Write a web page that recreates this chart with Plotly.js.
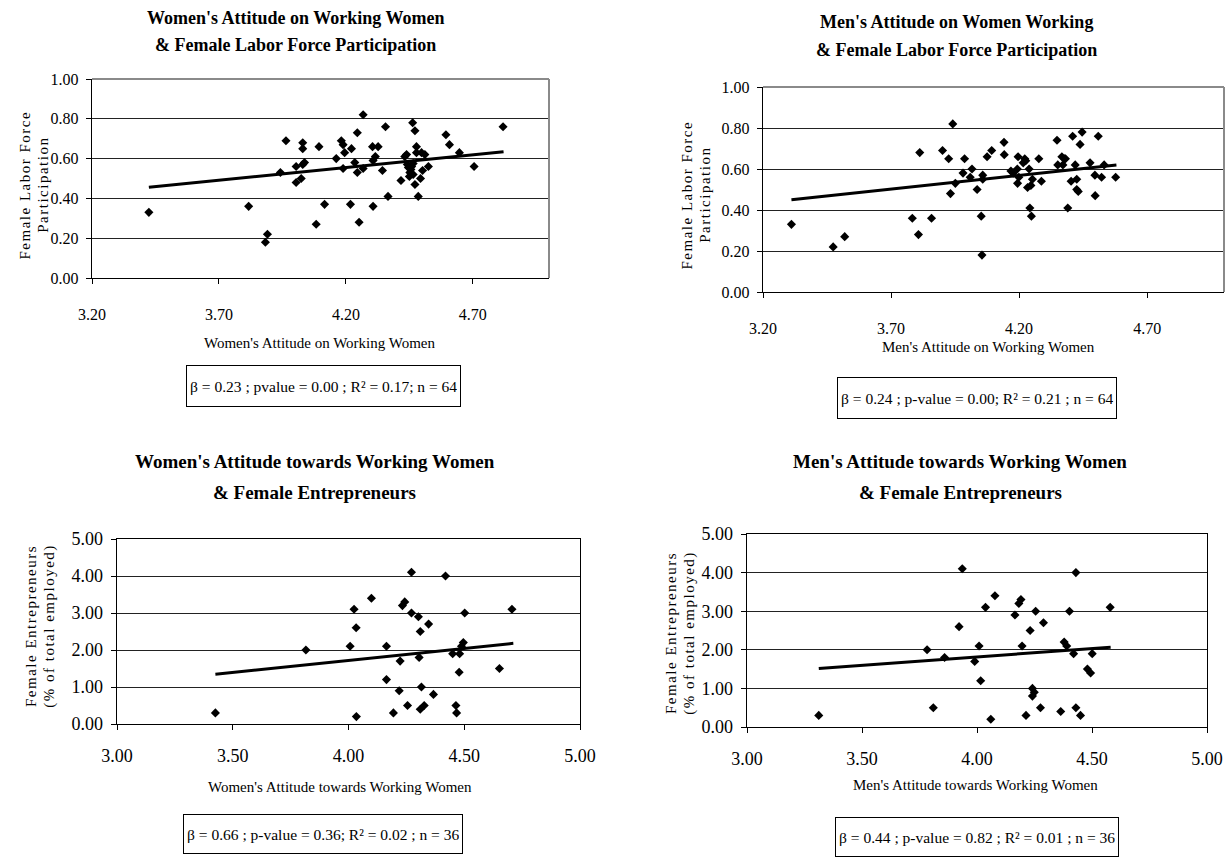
<!DOCTYPE html>
<html>
<head>
<meta charset="utf-8">
<script src="https://cdn.plot.ly/plotly-3.0.1.min.js"></script>
<style>
html,body{margin:0;padding:0;background:#fff;}
#chart{width:1225px;height:857px;}
.annotation[data-index="12"] text,.annotation[data-index="13"] text,
.annotation[data-index="14"] text,.annotation[data-index="15"] text,
.annotation[data-index="16"] text,.annotation[data-index="17"] text,
.annotation[data-index="18"] text,.annotation[data-index="19"] text{letter-spacing:1.5px;}
</style>
</head>
<body>
<div id="chart"></div>
<script>
// ---------- DATA ----------
// Chart 1: Women's attitude vs female labor force participation
const womenAttLFP = [3.424,3.817,3.883,3.891,3.942,3.964,4.004,4.004,4.024,4.030,4.030,4.030,4.037,4.083,4.094,4.116,4.162,4.182,4.189,4.189,4.195,4.218,4.222,4.235,4.245,4.245,4.252,4.268,4.268,4.305,4.307,4.307,4.316,4.327,4.344,4.356,4.366,4.417,4.439,4.442,4.446,4.452,4.459,4.463,4.465,4.472,4.472,4.478,4.478,4.485,4.494,4.498,4.502,4.511,4.525,4.594,4.608,4.647,4.705,4.819,4.450,4.465,4.456,4.432];
const lfpWomen = [0.33,0.36,0.18,0.22,0.53,0.69,0.56,0.48,0.50,0.68,0.65,0.57,0.58,0.27,0.66,0.37,0.60,0.69,0.67,0.55,0.63,0.37,0.65,0.58,0.73,0.53,0.28,0.82,0.55,0.66,0.59,0.36,0.61,0.66,0.54,0.76,0.41,0.49,0.62,0.57,0.555,0.53,0.56,0.78,0.52,0.74,0.47,0.66,0.63,0.41,0.50,0.63,0.54,0.62,0.56,0.72,0.67,0.63,0.56,0.76,0.51,0.575,0.545,0.61];
const trend1X = [3.424, 4.821];
const trend1Y = [0.456, 0.634];

// Chart 2: Men's attitude vs female labor force participation
const menAttLFP = [3.311,3.474,3.519,3.783,3.807,3.812,3.858,3.901,3.925,3.932,3.941,3.951,3.981,3.987,4.009,4.016,4.036,4.052,4.055,4.058,4.058,4.075,4.093,4.141,4.142,4.168,4.177,4.193,4.194,4.196,4.199,4.216,4.222,4.226,4.233,4.239,4.242,4.246,4.248,4.252,4.277,4.287,4.348,4.351,4.367,4.371,4.377,4.381,4.390,4.403,4.409,4.419,4.425,4.425,4.431,4.438,4.446,4.477,4.496,4.497,4.509,4.522,4.532,4.577];
const lfpMen = [0.33,0.22,0.27,0.36,0.28,0.68,0.36,0.69,0.65,0.48,0.82,0.53,0.58,0.65,0.56,0.60,0.50,0.37,0.18,0.57,0.55,0.66,0.69,0.73,0.67,0.59,0.58,0.60,0.53,0.66,0.56,0.63,0.65,0.64,0.51,0.60,0.41,0.52,0.37,0.55,0.65,0.54,0.74,0.62,0.66,0.62,0.65,0.65,0.41,0.54,0.76,0.62,0.55,0.50,0.49,0.72,0.78,0.63,0.57,0.47,0.76,0.56,0.62,0.56];
const trend2X = [3.311, 4.580];
const trend2Y = [0.450, 0.620];

// Chart 3: Women's attitude vs female entrepreneurs
const womenAttEnt = [3.425,3.816,4.007,4.024,4.033,4.034,4.099,4.164,4.164,4.194,4.219,4.223,4.233,4.243,4.255,4.272,4.272,4.302,4.305,4.310,4.310,4.315,4.327,4.346,4.367,4.419,4.450,4.464,4.467,4.478,4.480,4.488,4.496,4.502,4.652,4.706];
const entWomen = [0.3,2.0,2.1,3.1,2.6,0.2,3.4,2.1,1.2,0.3,0.9,1.7,3.2,3.3,0.5,4.1,3.0,2.9,1.8,2.5,0.4,1.0,0.5,2.7,0.8,4.0,1.9,0.5,0.3,1.4,1.9,2.1,2.2,3.0,1.5,3.1];
const trend3X = [3.425, 4.712];
const trend3Y = [1.347, 2.18];

// Chart 4: Men's attitude vs female entrepreneurs
const menAttEnt = [3.312,3.783,3.810,3.859,3.922,3.936,3.990,4.009,4.016,4.037,4.060,4.078,4.165,4.182,4.191,4.196,4.213,4.231,4.241,4.241,4.249,4.255,4.276,4.289,4.364,4.379,4.390,4.402,4.420,4.430,4.430,4.450,4.480,4.494,4.501,4.579];
const entMen = [0.3,2.0,0.5,1.8,2.6,4.1,1.7,2.1,1.2,3.1,0.2,3.4,2.9,3.2,3.3,2.1,0.3,2.5,1.0,0.8,0.9,3.0,0.5,2.7,0.4,2.2,2.1,3.0,1.9,4.0,0.5,0.3,1.5,1.4,1.9,3.1];
const trend4X = [3.312, 4.581];
const trend4Y = [1.517, 2.069];

// Texts
const titles = [
  ["Women's Attitude on Working Women", "& Female Labor Force Participation"],
  ["Men's Attitude on Women Working", "& Female Labor Force Participation"],
  ["Women's Attitude towards Working Women", "& Female Entrepreneurs"],
  ["Men's Attitude towards Working Women", "& Female Entrepreneurs"]
];
const xTitles = ["Women's Attitude on Working Women", "Men's Attitude on Working Women",
  "Women's Attitude towards Working Women", "Men's Attitude towards Working Women"];
const yTitles = [["Female Labor Force", "Participation"], ["Female Labor Force", "Participation"],
  ["Female Entrepreneurs", "(% of total employed)"], ["Female Entrepreneurs", "(% of total employed)"]];
const stats = [
  "β = 0.23 ; pvalue = 0.00 ; R² = 0.17; n = 64",
  "β = 0.24 ; p-value = 0.00; R² = 0.21 ; n = 64",
  "β = 0.66 ; p-value = 0.36; R² = 0.02 ; n = 36",
  "β = 0.44 ; p-value = 0.82 ; R² = 0.01 ; n = 36"
];

// ---------- LAYOUT ----------
const W = 1225, H = 857;
const FONT = "Liberation Serif, Times New Roman, serif";
const fx = p => p / W;
const fy = p => 1 - p / H;

// plot boxes in pixels [left, right, top, bottom]
const boxes = [
  [92, 549, 79, 278],
  [763, 1224, 87, 292],
  [117, 580, 539, 724],
  [747, 1207, 534, 727]
];

function scatter(x, y, n) {
  return {x, y, type: 'scatter', mode: 'markers', xaxis: 'x' + (n === 1 ? '' : n), yaxis: 'y' + (n === 1 ? '' : n),
    marker: {symbol: 'diamond', size: 7, color: '#000'}, hoverinfo: 'skip', showlegend: false};
}
function trend(x, y, n) {
  return {x, y, type: 'scatter', mode: 'lines', xaxis: 'x' + (n === 1 ? '' : n), yaxis: 'y' + (n === 1 ? '' : n),
    line: {color: '#000', width: 3}, hoverinfo: 'skip', showlegend: false};
}

const data = [
  trend(trend1X, trend1Y, 1), scatter(womenAttLFP, lfpWomen, 1),
  trend(trend2X, trend2Y, 2), scatter(menAttLFP, lfpMen, 2),
  trend(trend3X, trend3Y, 3), scatter(womenAttEnt, entWomen, 3),
  trend(trend4X, trend4Y, 4), scatter(menAttEnt, entMen, 4)
];

function xAxis(i, range, tick0, fs, standoff, mirror) {
  const b = boxes[i];
  return {domain: [fx(b[0]), fx(b[1])], range, tickmode: 'linear', tick0, dtick: 0.5, tickformat: '.2f',
    showgrid: false, zeroline: false, showline: true, linecolor: '#000', linewidth: 1.3, mirror,
    ticks: 'outside', ticklen: 5, tickwidth: 1, tickcolor: '#000', ticklabelstandoff: standoff,
    tickfont: {family: FONT, size: fs, color: '#000'}, anchor: 'y' + (i === 0 ? '' : i + 1),
    automargin: false, fixedrange: true};
}
function yAxis(i, range, dtick, fs, mirror) {
  const b = boxes[i];
  return {domain: [fy(b[3]), fy(b[2])], range, tickmode: 'linear', tick0: 0, dtick, tickformat: '.2f',
    showgrid: true, gridcolor: '#222', gridwidth: 1, zeroline: false, showline: true, linecolor: '#000',
    linewidth: 1.3, mirror, ticks: 'outside', ticklen: 5, tickwidth: 1, tickcolor: '#000', ticklabelstandoff: 4,
    tickfont: {family: FONT, size: fs, color: '#000'}, anchor: 'x' + (i === 0 ? '' : i + 1),
    automargin: false, fixedrange: true};
}

function ann(text, x, y, size, extra, weight) {
  return Object.assign({text, x: fx(x), y: fy(y), xref: 'paper', yref: 'paper', showarrow: false,
    xanchor: 'center', yanchor: 'middle',
    font: {family: FONT, size, color: '#000', weight: weight || 'normal'}}, extra || {});
}
const boxStyle = h => ({xanchor: 'left', yanchor: 'top', bordercolor: '#000', borderwidth: 1, borderpad: 3, height: h, bgcolor: '#fff'});
const rot = {textangle: -90};

const annotations = [
  // titles (0-7)
  ann(titles[0][0], 295, 18, 18, null, 'bold'), ann(titles[0][1], 295, 45, 18, null, 'bold'),
  ann(titles[1][0], 956, 22, 18, null, 'bold'), ann(titles[1][1], 956, 50, 18, null, 'bold'),
  ann(titles[2][0], 315, 462, 19, null, 'bold'), ann(titles[2][1], 315, 492, 19, null, 'bold'),
  ann(titles[3][0], 960, 462, 19, null, 'bold'), ann(titles[3][1], 960, 492, 19, null, 'bold'),
  // x titles (8-11)
  ann(xTitles[0], 320, 343, 15), ann(xTitles[1], 988, 347, 15),
  ann(xTitles[2], 340, 787, 15), ann(xTitles[3], 975, 785, 15),
  // y titles, one line each (12-19)
  ann(yTitles[0][0], 25, 185, 15, rot), ann(yTitles[0][1], 43, 185, 15, rot),
  ann(yTitles[1][0], 687, 195, 15, rot), ann(yTitles[1][1], 705, 195, 15, rot),
  ann(yTitles[2][0], 31, 626, 15, rot), ann(yTitles[2][1], 49, 626, 15, rot),
  ann(yTitles[3][0], 671, 633, 15, rot), ann(yTitles[3][1], 689, 633, 15, rot),
  // stats boxes (20-23)
  ann(stats[0], 186, 365, 15.5, boxStyle(34)),
  ann(stats[1], 837, 377, 15.5, boxStyle(34)),
  ann(stats[2], 183, 814, 15.5, boxStyle(32)),
  ann(stats[3], 835, 817, 15.5, boxStyle(32))
];

// grey top/right border for the upper charts
const shapes = [];
[['x', 'y'], ['x2', 'y2']].forEach(([xa, ya]) => {
  shapes.push({type: 'line', xref: xa + ' domain', yref: ya + ' domain', x0: 0, x1: 1, y0: 1, y1: 1,
    line: {color: '#8a8a8a', width: 2}, layer: 'above'});
  shapes.push({type: 'line', xref: xa + ' domain', yref: ya + ' domain', x0: 1, x1: 1, y0: 0, y1: 1,
    line: {color: '#8a8a8a', width: 2}, layer: 'above'});
});

const layout = {
  width: W, height: H, margin: {l: 0, r: 0, t: 0, b: 0},
  paper_bgcolor: '#fff', plot_bgcolor: '#fff', showlegend: false,
  font: {family: FONT, color: '#000'},
  xaxis: xAxis(0, [3.2, 5.0], 3.2, 16, 16, false),
  yaxis: yAxis(0, [0, 1], 0.2, 16, false),
  xaxis2: xAxis(1, [3.2, 5.0], 3.2, 16, 16, false),
  yaxis2: yAxis(1, [0, 1], 0.2, 16, false),
  xaxis3: xAxis(2, [3.0, 5.0], 3.0, 18, 10, true),
  yaxis3: yAxis(2, [0, 5], 1, 18, true),
  xaxis4: xAxis(3, [3.0, 5.0], 3.0, 18, 10, true),
  yaxis4: yAxis(3, [0, 5], 1, 18, true),
  annotations, shapes
};

Plotly.newPlot('chart', data, layout, {staticPlot: true, displayModeBar: false});
</script>
</body>
</html>
